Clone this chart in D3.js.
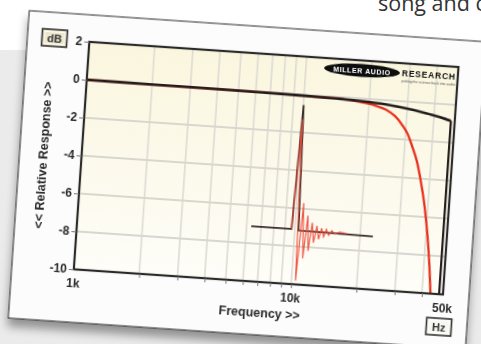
<!DOCTYPE html>
<html>
<head>
<meta charset="utf-8">
<script src="https://cdn.jsdelivr.net/npm/d3@7"></script>
<style>
  html, body { margin: 0; padding: 0; background: #fff; overflow: hidden; }
  svg { display: block; }
</style>
</head>
<body>
<svg id="page" width="481" height="344"></svg>
<script>
// axis values
const yTicks = [2, 0, -2, -4, -6, -8, -10];
const yTickLabels = ['2', '0', '-2', '-4', '-6', '-8', '-10'];
const gridDb = [0, -2, -4, -6, -8];
const gridFreqs = [2000, 3000, 4000, 5000, 6000, 7000, 8000, 9000, 10000, 20000, 30000, 40000];
const xLabelFreqs = [1000, 10000, 50000];
const xLabels = ['1k', '10k', '50k'];

// frequency response (black) and filtered response (red)
const blackFreq = [1000, 2000, 5000, 10000, 15000, 20000, 25000, 30000, 35000, 40000, 45000, 48000];
const blackDb   = [0, -0.01, -0.03, -0.06, -0.1, -0.16, -0.25, -0.37, -0.5, -0.63, -0.77, -0.86];
const redFreq = [1000, 5000, 10000, 15000, 18000, 21000, 24000, 26500, 28800, 30700, 32400, 34500, 36600, 38600, 40500, 42200, 43800];
const redDb   = [0, -0.03, -0.06, -0.1, -0.18, -0.3, -0.5, -0.8, -1.25, -1.7, -2.3, -3.1, -4.2, -5.4, -6.8, -8.3, -10];

// impulse inset (sample index, level in dB on the chart's scale)
const impBlackT  = [0, 40, 43.7, 47, 121];
const impBlackDb = [-7.1, -7.1, -0.55, -7.15, -7.2];
const impRedT  = [40, 43.6, 47.4, 50.4, 53.0, 55.4, 57.8, 60.2, 62.6, 65.0, 67.4, 69.8, 72.2, 74.6, 77.0, 80, 83, 88, 95];
const impRedDb = [-7.1, -1.3, -9.8, -5.7, -8.6, -6.35, -8.2, -6.7, -7.75, -6.85, -7.55, -6.95, -7.4, -7.0, -7.3, -7.05, -7.2, -7.1, -7.15];

var svg = d3.select('#page');
var defs = svg.append('defs');

var shadow = defs.append('filter').attr('id', 'shadow')
  .attr('x', '-10%').attr('y', '-10%').attr('width', '120%').attr('height', '130%');
shadow.append('feDropShadow').attr('dx', 0).attr('dy', 8).attr('stdDeviation', 5)
  .attr('flood-color', '#000').attr('flood-opacity', 0.38);

var soft = defs.append('filter').attr('id', 'soft');
soft.append('feGaussianBlur').attr('stdDeviation', 0.45);

var grad = defs.append('linearGradient').attr('id', 'cream')
  .attr('x1', 0).attr('y1', 0).attr('x2', 0).attr('y2', 1);
grad.append('stop').attr('offset', '0%').attr('stop-color', '#faf6de');
grad.append('stop').attr('offset', '100%').attr('stop-color', '#fefdf8');

// page behind the card
svg.append('rect').attr('x', 0).attr('y', 50).attr('width', 481).attr('height', 294).attr('fill', '#ebebeb');
svg.append('text').attr('x', 378).attr('y', 10.5)
  .attr('font-family', '"Open Sans", sans-serif').attr('font-size', 21.5).attr('fill', '#333')
  .text('song and c');

// tilted card
var W = 458, H = 308;
var card = svg.append('g').attr('transform', 'translate(29.3,10.7) rotate(3.9)');
card.append('rect').attr('width', W).attr('height', H)
  .attr('fill', '#fcfcfc').attr('stroke', '#222').attr('stroke-width', 1)
  .attr('filter', 'url(#shadow)');

var content = card.append('g').attr('filter', 'url(#soft)');

var pw = 370, ph = 228;
var x = d3.scaleLog().domain([1000, 50000]).range([0, pw]);
var y = d3.scaleLinear().domain([-10, 2]).range([ph, 0]);

var plot = content.append('g').attr('transform', 'translate(62,27)');
defs.append('clipPath').attr('id', 'clip').append('rect').attr('width', pw).attr('height', ph);

plot.append('rect').attr('width', pw).attr('height', ph).attr('fill', 'url(#cream)');

plot.selectAll('.vg').data(gridFreqs).enter().append('line')
  .attr('x1', d => x(d)).attr('x2', d => x(d)).attr('y1', 0).attr('y2', ph)
  .attr('stroke', '#dcdbd3').attr('stroke-width', 1.6);
plot.selectAll('.hg').data(gridDb).enter().append('line')
  .attr('x1', 0).attr('x2', pw).attr('y1', d => y(d)).attr('y2', d => y(d))
  .attr('stroke', '#d8d7cf').attr('stroke-width', 2);

// logo
var logo = plot.append('g');
logo.append('ellipse').attr('cx', 274).attr('cy', 10).attr('rx', 38).attr('ry', 6.5).attr('fill', '#111');
logo.append('text').attr('x', 274).attr('y', 12.5).attr('text-anchor', 'middle')
  .attr('font-family', 'Liberation Sans, Arial, sans-serif').attr('font-weight', 'bold')
  .attr('font-size', 7).attr('letter-spacing', 0.6).attr('fill', '#fff').text('MILLER AUDIO');
logo.append('text').attr('x', 341).attr('y', 13).attr('text-anchor', 'middle')
  .attr('font-family', 'Liberation Sans, Arial, sans-serif').attr('font-weight', 'bold')
  .attr('font-size', 8.5).attr('letter-spacing', 0.8).attr('fill', '#111').text('RESEARCH');
logo.append('text').attr('x', 341).attr('y', 18.5).attr('text-anchor', 'middle')
  .attr('font-family', 'Liberation Sans, Arial, sans-serif')
  .attr('font-size', 3.5).attr('fill', '#555').text('putting the science back into audio');

var curves = plot.append('g').attr('clip-path', 'url(#clip)');
var line = d3.line().x(d => x(d[0])).y(d => y(d[1])).curve(d3.curveMonotoneX);

var redData = redFreq.map((f, i) => [f, redDb[i]]);
var blackData = blackFreq.map((f, i) => [f, blackDb[i]]);

curves.append('path').attr('d', line(redData))
  .attr('fill', 'none').attr('stroke', '#e8301e').attr('stroke-width', 2.3);
curves.append('path').attr('d', line(blackData))
  .attr('fill', 'none').attr('stroke', '#231a1a').attr('stroke-width', 2.6);
var last = blackData[blackData.length - 1];
curves.append('line')
  .attr('x1', x(last[0])).attr('x2', x(last[0])).attr('y1', y(last[1])).attr('y2', y(-10))
  .attr('stroke', '#231a1a').attr('stroke-width', 2.2);

// impulse inset
var xi = d3.scaleLinear().domain([0, 121]).range([x(6300), x(22900)]);
var iline = d3.line().x(d => xi(d[0])).y(d => y(d[1]));
curves.append('path').attr('d', iline(impBlackT.map((t, i) => [t, impBlackDb[i]])))
  .attr('fill', 'none').attr('stroke', '#3a2c2c').attr('stroke-width', 1.8);
curves.append('path').attr('d', iline(impRedT.map((t, i) => [t, impRedDb[i]])))
  .attr('fill', 'none').attr('stroke', '#f04a36').attr('stroke-width', 1.2).attr('opacity', 0.9);

plot.append('rect').attr('width', pw).attr('height', ph)
  .attr('fill', 'none').attr('stroke', '#2a2a2a').attr('stroke-width', 2.2);

// axes
var yAxis = plot.append('g').call(d3.axisLeft(y).tickValues(yTicks).tickSize(5).tickPadding(2)
  .tickFormat((d, i) => yTickLabels[i]));
var xAxis = plot.append('g').attr('transform', 'translate(0,' + ph + ')')
  .call(d3.axisBottom(x).tickValues(gridFreqs).tickSize(4).tickFormat(''));
[yAxis, xAxis].forEach(a => {
  a.select('.domain').remove();
  a.selectAll('line').attr('stroke', '#777');
});
yAxis.selectAll('text').attr('font-family', 'Liberation Sans, Arial, sans-serif')
  .attr('font-weight', 'bold').attr('font-size', 12).attr('fill', '#2a2a2a');

plot.selectAll('.xl').data(xLabelFreqs).enter().append('text')
  .attr('x', d => x(d)).attr('y', ph + 18).attr('text-anchor', 'middle')
  .attr('font-family', 'Liberation Sans, Arial, sans-serif').attr('font-weight', 'bold')
  .attr('font-size', 12).attr('fill', '#2a2a2a')
  .text((d, i) => xLabels[i]);

plot.append('text').attr('x', 188).attr('y', ph + 35).attr('text-anchor', 'middle')
  .attr('font-family', 'Liberation Sans, Arial, sans-serif').attr('font-weight', 'bold')
  .attr('font-size', 12.5).attr('fill', '#2a2a2a').text('Frequency >>');

plot.append('text').attr('transform', 'translate(-34,' + (ph / 2 + 2) + ') rotate(-90)')
  .attr('text-anchor', 'middle')
  .attr('font-family', 'Liberation Sans, Arial, sans-serif').attr('font-weight', 'bold')
  .attr('font-size', 12.5).attr('fill', '#2a2a2a').text('<< Relative Response >>');

// unit boxes
function unitBox(cx, cy, label, fill) {
  var g = content.append('g').attr('transform', 'translate(' + cx + ',' + cy + ')');
  g.append('rect').attr('x', -12.5).attr('y', -8.5).attr('width', 25).attr('height', 17)
    .attr('fill', fill).attr('stroke', '#333').attr('stroke-width', 1.6);
  g.append('rect').attr('x', -10).attr('y', -6).attr('width', 20).attr('height', 12)
    .attr('fill', 'none').attr('stroke', '#fff').attr('stroke-width', 0.8);
  g.append('text').attr('y', 4).attr('text-anchor', 'middle')
    .attr('font-family', 'Liberation Sans, Arial, sans-serif').attr('font-weight', 'bold')
    .attr('font-size', 11).attr('fill', '#333').text(label);
}
unitBox(27, 25.5, 'dB', '#ebe6cc');
unitBox(430, 287.5, 'Hz', '#f7f7f2');
</script>
</body>
</html>
